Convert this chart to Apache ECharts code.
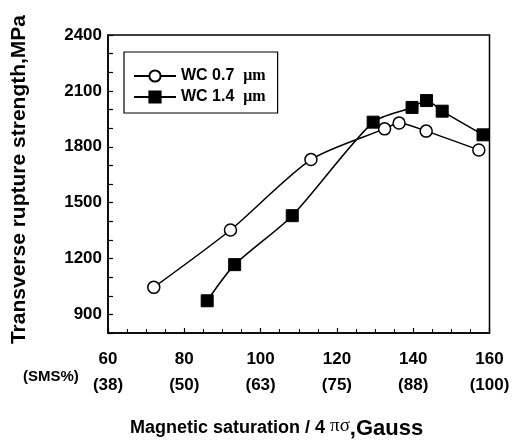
<!DOCTYPE html>
<html>
<head>
<meta charset="utf-8">
<script src="https://cdn.jsdelivr.net/npm/echarts@6/dist/echarts.min.js"></script>
<style>
html,body{margin:0;padding:0;background:#fff;}
#c{width:520px;height:442px;}
</style>
</head>
<body>
<div id="c"></div>
<script>
// ---- data ----
const seriesNames = ['WC 0.7', 'WC 1.4'];
const wc07X = [72.0, 92.1, 113.2, 132.5, 136.3, 143.4, 157.2];
const wc07Y = [1045, 1353, 1731, 1896, 1927, 1884, 1783];
const wc14X = [86.0, 93.2, 108.3, 129.5, 139.7, 143.5, 147.6, 158.3];
const wc14Y = [973, 1167, 1430, 1932, 2011, 2048, 1991, 1864];
const xTickValues = [60, 80, 100, 120, 140, 160];
const smsLabels = ['(38)', '(50)', '(63)', '(75)', '(88)', '(100)'];
const yTickValues = [900, 1200, 1500, 1800, 2100, 2400];

const FONT = 'Liberation Sans, Arial, sans-serif';
const SERIF = 'Liberation Serif, Times New Roman, serif';

function pairs(xs, ys) { return xs.map((x, i) => [x, ys[i]]); }

const chart = echarts.init(document.getElementById('c'), null, {renderer: 'canvas'});
chart.setOption({
  backgroundColor: '#fff',
  animation: false,
  grid: {left: 108, top: 35, right: 30.5, bottom: 109, show: true, borderColor: '#000', borderWidth: 1.5, backgroundColor: 'transparent'},
  legend: {
    left: 124, top: 52,
    orient: 'vertical',
    padding: [16, 12, 8, 9],
    itemWidth: 42, itemHeight: 14, itemGap: 5,
    borderColor: '#000', borderWidth: 1.2,
    data: seriesNames,
    formatter: n => n + '  {u|μm}',
    textStyle: {
      fontFamily: FONT, fontWeight: 'bold', fontSize: 16, color: '#000',
      rich: {u: {fontFamily: SERIF, fontWeight: 'bold', fontSize: 16, color: '#000'}}
    }
  },
  xAxis: {
    type: 'value', min: 60, max: 160, interval: 20,
    axisLine: {show: true, lineStyle: {color: '#000', width: 1.5}},
    axisTick: {show: true, inside: true, length: 5, lineStyle: {color: '#000', width: 1.2}},
    minorTick: {show: true, splitNumber: 4, length: 4, lineStyle: {color: '#000', width: 1}},
    splitLine: {show: false},
    axisLabel: {
      margin: 13,
      formatter: v => {
        const i = xTickValues.indexOf(v);
        return i < 0 ? '' : '{a|' + v + '}\n{b|' + smsLabels[i] + '}';
      },
      rich: {
        a: {fontFamily: FONT, fontWeight: 'bold', fontSize: 17, color: '#000', lineHeight: 26},
        b: {fontFamily: FONT, fontWeight: 'bold', fontSize: 17, color: '#000', lineHeight: 26}
      }
    }
  },
  yAxis: {
    type: 'value', min: 800, max: 2400, interval: 100,
    axisLine: {show: true, lineStyle: {color: '#000', width: 1.5}},
    axisTick: {show: true, inside: true, length: 5, lineStyle: {color: '#000', width: 1.2}},
    splitLine: {show: false},
    axisLabel: {
      margin: 6,
      fontFamily: FONT, fontWeight: 'bold', fontSize: 17, color: '#000',
      formatter: v => yTickValues.indexOf(v) >= 0 ? String(v) : ''
    },
    name: 'Transverse rupture strength,MPa',
    nameLocation: 'middle',
    nameGap: 78,
    nameTextStyle: {fontFamily: FONT, fontWeight: 'bold', fontSize: 21, color: '#000', padding: [0, 0, 0, 9]}
  },
  graphic: [
    {type: 'text', left: 23, top: 369, style: {text: '(SMS%)', fontFamily: FONT, fontWeight: 'bold', fontSize: 15, fill: '#000'}},
    {type: 'text', left: 130, top: 417, style: {
      text: 'Magnetic saturation / 4 {g|πσ}{h|,Gauss}',
      fontFamily: FONT, fontWeight: 'bold', fontSize: 18, fill: '#000',
      rich: {
        g: {fontFamily: SERIF, fontSize: 19, fill: '#000', verticalAlign: 'top', padding: [0, 0, 4, 0]},
        h: {fontFamily: FONT, fontWeight: 'bold', fontSize: 22, fill: '#000'}
      }
    }}
  ],
  series: [
    {
      name: seriesNames[0], type: 'line', smooth: 0.25,
      data: pairs(wc07X, wc07Y),
      symbol: 'circle', symbolSize: 12,
      lineStyle: {color: '#000', width: 1.5},
      itemStyle: {color: '#fff', borderColor: '#000', borderWidth: 1.5}
    },
    {
      name: seriesNames[1], type: 'line', smooth: 0.25,
      data: pairs(wc14X, wc14Y),
      symbol: 'rect', symbolSize: 12,
      lineStyle: {color: '#000', width: 1.5},
      itemStyle: {color: '#000', borderColor: '#000', borderWidth: 1}
    }
  ]
});
</script>
</body>
</html>
